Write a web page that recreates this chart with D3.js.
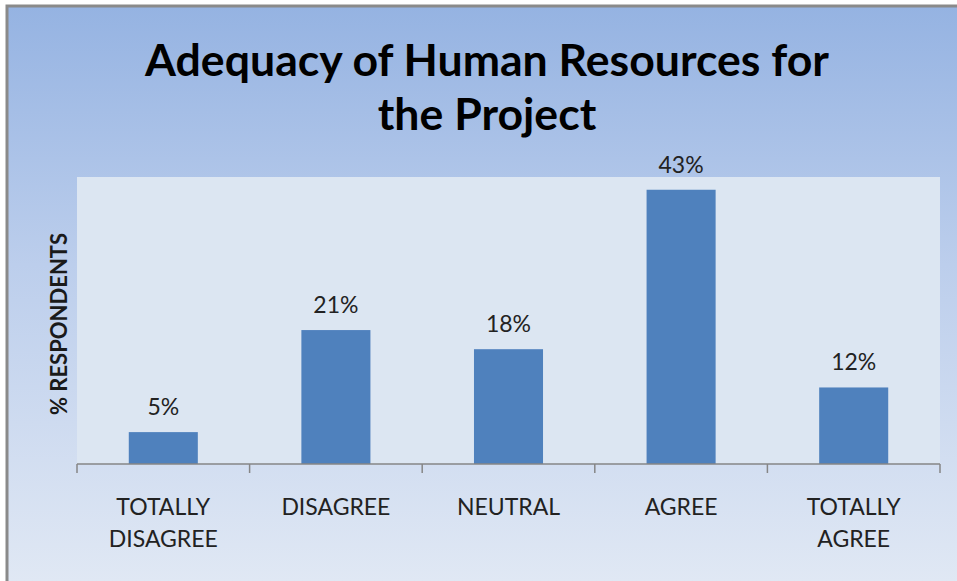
<!DOCTYPE html>
<html>
<head>
<meta charset="utf-8">
<script src="https://cdn.jsdelivr.net/npm/d3@7"></script>
<style>
  html, body { margin: 0; padding: 0; background: #fff; }
  svg { display: block; }
</style>
</head>
<body>
<div id="chart"></div>
<script>
  // chart data
  const categories = [["TOTALLY", "DISAGREE"], ["DISAGREE"], ["NEUTRAL"], ["AGREE"], ["TOTALLY", "AGREE"]];
  const values = [5, 21, 18, 43, 12];
  const titleLines = ["Adequacy of Human Resources for", "the Project"];
  const yLabel = "% RESPONDENTS";

  const W = 957, H = 581;
  const font = "Lato, 'Open Sans', sans-serif";

  const svg = d3.select("#chart").append("svg")
    .attr("width", W)
    .attr("height", H);

  // background gradient
  const defs = svg.append("defs");
  const grad = defs.append("linearGradient")
    .attr("id", "bg")
    .attr("x1", 0).attr("y1", 0).attr("x2", 0).attr("y2", 1);
  grad.append("stop").attr("offset", "0%").attr("stop-color", "#95b3e2");
  grad.append("stop").attr("offset", "45%").attr("stop-color", "#bcceec");
  grad.append("stop").attr("offset", "100%").attr("stop-color", "#e0e8f4");

  svg.append("rect")
    .attr("x", 7).attr("y", 6)
    .attr("width", W - 7).attr("height", H - 6)
    .attr("fill", "url(#bg)");

  // frame (only top/left are visible in the crop)
  svg.append("path")
    .attr("d", `M7,${H} L7,6 L${W},6`)
    .attr("fill", "none")
    .attr("stroke", "#8a8a8a")
    .attr("stroke-width", 3);

  // plot area
  const plot = {left: 77, right: 940, top: 177, bottom: 464};

  svg.append("rect")
    .attr("x", plot.left).attr("y", plot.top)
    .attr("width", plot.right - plot.left)
    .attr("height", plot.bottom - plot.top)
    .attr("fill", "#dce6f2");

  const x = d3.scaleBand()
    .domain(d3.range(values.length))
    .range([plot.left, plot.right])
    .paddingInner(0.6)
    .paddingOuter(0.3);

  const y = d3.scaleLinear()
    .domain([0, 45])
    .range([plot.bottom, plot.top]);

  // bars
  svg.selectAll("rect.bar")
    .data(values)
    .join("rect")
      .attr("class", "bar")
      .attr("x", (d, i) => x(i))
      .attr("y", d => y(d))
      .attr("width", x.bandwidth())
      .attr("height", d => plot.bottom - y(d))
      .attr("fill", "#4f81bd");

  // value labels
  svg.selectAll("text.val")
    .data(values)
    .join("text")
      .attr("class", "val")
      .attr("x", (d, i) => x(i) + x.bandwidth() / 2)
      .attr("y", d => y(d) - 17)
      .attr("text-anchor", "middle")
      .attr("font-family", font)
      .attr("font-size", 23)
      .attr("fill", "#222")
      .text(d => d + "%");

  // x axis with ticks between categories
  const step = (plot.right - plot.left) / values.length;
  const axis = svg.append("g").attr("stroke", "#868686").attr("stroke-width", 1.5);
  axis.append("line")
    .attr("x1", plot.left).attr("x2", plot.right)
    .attr("y1", plot.bottom).attr("y2", plot.bottom);
  axis.selectAll("line.tick")
    .data(d3.range(values.length + 1))
    .join("line")
      .attr("class", "tick")
      .attr("x1", i => plot.left + i * step)
      .attr("x2", i => plot.left + i * step)
      .attr("y1", plot.bottom)
      .attr("y2", plot.bottom + 9);

  // category labels
  const cat = svg.selectAll("text.cat")
    .data(categories)
    .join("text")
      .attr("class", "cat")
      .attr("text-anchor", "middle")
      .attr("font-family", font)
      .attr("font-size", 23)
      .attr("fill", "#222");
  cat.selectAll("tspan")
    .data((d, i) => d.map(t => ({t, i})))
    .join("tspan")
      .attr("x", d => x(d.i) + x.bandwidth() / 2)
      .attr("y", (d, j) => 515 + j * 32)
      .text(d => d.t);

  // y axis title
  svg.append("text")
    .attr("transform", "translate(67,324) rotate(-90)")
    .attr("text-anchor", "middle")
    .attr("font-family", font)
    .attr("font-weight", "bold")
    .attr("font-size", 22)
    .attr("fill", "#1a1a1a")
    .text(yLabel);

  // title
  svg.append("text")
    .attr("text-anchor", "middle")
    .attr("font-family", font)
    .attr("font-weight", "bold")
    .attr("font-size", 44.6)
    .attr("fill", "#000")
    .selectAll("tspan")
    .data(titleLines)
    .join("tspan")
      .attr("x", 487)
      .attr("y", (d, i) => 76 + i * 54)
      .text(d => d);
</script>
</body>
</html>
